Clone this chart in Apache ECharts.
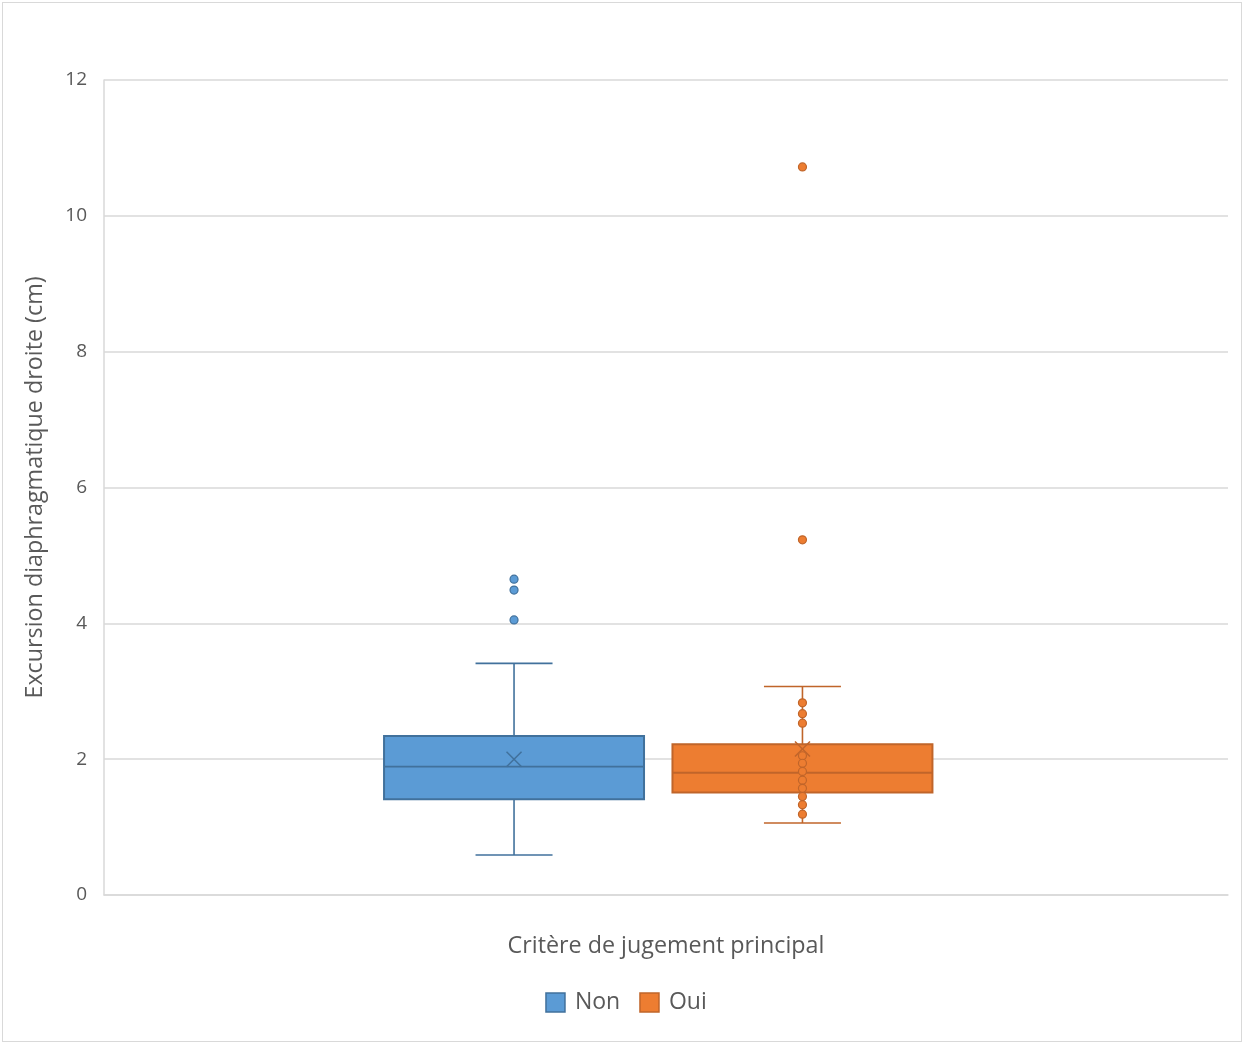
<!DOCTYPE html>
<html>
<head>
<meta charset="utf-8">
<script src="https://cdn.jsdelivr.net/npm/echarts@6/dist/echarts.min.js"></script>
<style>
  html, body { margin: 0; padding: 0; background: #fff; }
  #frame { position: absolute; left: 2px; top: 2px; width: 1240px; height: 1040px; border: 1px solid #d9d9d9; box-sizing: border-box; }
  #chart { position: absolute; left: 0; top: 0; width: 1244px; height: 1044px; }
</style>
</head>
<body>
<div id="frame"></div>
<div id="chart"></div>
<script>
// ---- data ----
const categories = [''];
const seriesNames = ['Non', 'Oui'];
// [min whisker, Q1, median, Q3, max whisker, mean]
const nonStats = [0.59, 1.41, 1.89, 2.34, 3.41, 2.00];
const ouiStats = [1.06, 1.51, 1.80, 2.22, 3.07, 2.15];
const nonPoints = [4.05, 4.49, 4.65];
const ouiPoints = [10.72, 5.23, 2.83, 2.67, 2.53, 2.05, 1.94, 1.82, 1.69, 1.57, 1.45, 1.33, 1.19];
const yTicks = [0, 2, 4, 6, 8, 10, 12];

// ---- styles ----
const fills = { Non: '#5B9BD5', Oui: '#ED7D31' };
const strokes = { Non: '#41719C', Oui: '#C0652A' };
const offsets = { Non: -0.1352, Oui: 0.1214 };   // fraction of category band
const boxFrac = 0.2313;
const capFrac = 0.0685;
const FONT = 'Open Sans';

function boxRender(name) {
  return function (params, api) {
    const bandW = api.size([1, 0])[0];
    const cx = api.coord([api.value(0), 0])[0] + offsets[name] * bandW;
    const hw = boxFrac * bandW / 2;
    const cw = capFrac * bandW / 2;
    const y = (i) => api.coord([api.value(0), api.value(i)])[1];
    const yMin = y(1), yQ1 = y(2), yMed = y(3), yQ3 = y(4), yMax = y(5), yMean = y(6);
    const lineStyle = { stroke: strokes[name], lineWidth: 1.6, fill: null };
    const m = 7.5;
    return {
      type: 'group',
      children: [
        { type: 'line', shape: { x1: cx, y1: yQ3, x2: cx, y2: yMax }, style: lineStyle },
        { type: 'line', shape: { x1: cx, y1: yQ1, x2: cx, y2: yMin }, style: lineStyle },
        { type: 'line', shape: { x1: cx - cw, y1: yMax, x2: cx + cw, y2: yMax }, style: lineStyle },
        { type: 'line', shape: { x1: cx - cw, y1: yMin, x2: cx + cw, y2: yMin }, style: lineStyle },
        { type: 'rect', shape: { x: cx - hw, y: yQ3, width: 2 * hw, height: yQ1 - yQ3 },
          style: { fill: fills[name], stroke: strokes[name], lineWidth: 2 } },
        { type: 'line', shape: { x1: cx - hw, y1: yMed, x2: cx + hw, y2: yMed }, style: { stroke: strokes[name], lineWidth: 1.8 } },
        { type: 'line', shape: { x1: cx - m, y1: yMean - m, x2: cx + m, y2: yMean + m }, style: { stroke: strokes[name], lineWidth: 1.5 } },
        { type: 'line', shape: { x1: cx - m, y1: yMean + m, x2: cx + m, y2: yMean - m }, style: { stroke: strokes[name], lineWidth: 1.5 } }
      ]
    };
  };
}

function pointRender(name) {
  return function (params, api) {
    const bandW = api.size([1, 0])[0];
    const p = api.coord([api.value(0), api.value(1)]);
    return {
      type: 'circle',
      shape: { cx: p[0] + offsets[name] * bandW, cy: p[1], r: 4 },
      style: { fill: fills[name], stroke: strokes[name], lineWidth: 1.2 }
    };
  };
}

const statsByName = { Non: nonStats, Oui: ouiStats };
const pointsByName = { Non: nonPoints, Oui: ouiPoints };

const series = [];
seriesNames.forEach(function (name) {
  series.push({
    name: name, type: 'custom', renderItem: boxRender(name),
    encode: { x: 0, y: [1, 2, 3, 4, 5, 6] },
    data: [[0].concat(statsByName[name])], z: 2
  });
  series.push({
    name: name, type: 'custom', renderItem: pointRender(name),
    encode: { x: 0, y: 1 },
    data: pointsByName[name].map(function (v) { return [0, v]; }), z: 3
  });
});

const chart = echarts.init(document.getElementById('chart'), null, { renderer: 'canvas' });
chart.setOption({
  animation: false,
  backgroundColor: 'transparent',
  grid: { left: 104, right: 16, top: 80, bottom: 149, containLabel: false },
  legend: {
    bottom: 25, left: 626, 
    itemWidth: 19, itemHeight: 19, itemGap: 19,
    textStyle: { fontFamily: FONT, fontSize: 23, color: '#595959', padding: [0, 0, 0, 5] },
    data: seriesNames.map(function (n) {
      return { name: n, icon: 'rect', itemStyle: { color: fills[n], borderColor: strokes[n], borderWidth: 1.5 } };
    })
  },
  xAxis: {
    type: 'category', data: categories,
    name: 'Critère de jugement principal', nameLocation: 'middle', nameGap: 40,
    nameTextStyle: { fontFamily: FONT, fontSize: 23.3, color: '#595959' },
    axisLine: { show: true, lineStyle: { color: '#d9d9d9', width: 1.5 } },
    axisTick: { show: false }, axisLabel: { show: false }, splitLine: { show: false }
  },
  yAxis: {
    type: 'value', min: yTicks[0], max: yTicks[yTicks.length - 1], interval: 2,
    name: 'Excursion diaphragmatique droite (cm)', nameLocation: 'middle', nameGap: 57, nameRotate: 90,
    nameTextStyle: { fontFamily: FONT, fontSize: 23.3, color: '#595959' },
    axisLine: { show: true, lineStyle: { color: '#d9d9d9', width: 1.5 } },
    axisTick: { show: false },
    axisLabel: { fontFamily: FONT, fontSize: 19, color: '#595959', margin: 17 },
    splitLine: { show: true, lineStyle: { color: '#d9d9d9', width: 1.5 } }
  },
  series: series
});
// center the legend at the reference position
(function () {
  const lg = chart.getModel().getComponent('legend');
  const view = chart.getViewOfComponentModel(lg);
  const rect = view.group.getBoundingRect();
  chart.setOption({ legend: { left: 626 - rect.width / 2 } });
})();
</script>
</body>
</html>
